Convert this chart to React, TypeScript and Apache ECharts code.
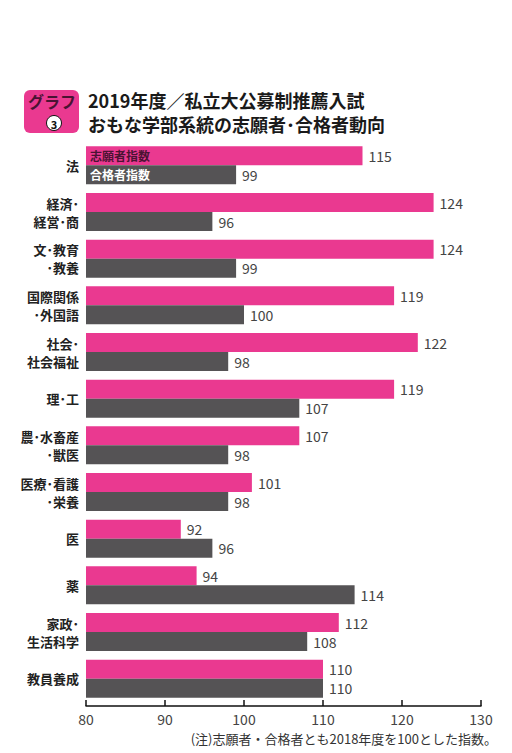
import React, { useEffect, useRef } from "react";
import * as echarts from "echarts";

const categories = [
  "法",
  "経済･\n経営･商",
  "文･教育\n･教養",
  "国際関係\n･外国語",
  "社会･\n社会福祉",
  "理･工",
  "農･水畜産\n･獣医",
  "医療･看護\n･栄養",
  "医",
  "薬",
  "家政･\n生活科学",
  "教員養成",
];
const applicantIndex = [115, 124, 124, 119, 122, 119, 107, 101, 92, 94, 112, 110];
const passerIndex = [99, 96, 99, 100, 98, 107, 98, 98, 96, 114, 108, 110];
const xTicks = { min: 80, max: 130, interval: 10 };

const PINK = "#ea3990";
const GREY = "#555355";
const FONT = "'Noto Sans CJK JP', 'Noto Sans', sans-serif";

export default function App() {
  const ref = useRef<HTMLDivElement>(null);
  useEffect(() => {
    document.body.style.margin = "0";
    const chart = echarts.init(ref.current!, null, { renderer: "svg" });
    chart.setOption({
      animation: false,
      backgroundColor: "#ffffff",
      textStyle: { fontFamily: FONT },
      grid: { left: 86, right: 31, top: 142, height: 560, containLabel: false },
      xAxis: {
        type: "value",
        min: xTicks.min,
        max: xTicks.max,
        interval: xTicks.interval,
        offset: 4,
        axisLine: { show: true, lineStyle: { color: "#111", width: 1.5 } },
        axisTick: { show: true, inside: true, length: 6, lineStyle: { color: "#111", width: 1.5 } },
        splitLine: { show: false },
        axisLabel: { color: "#444", fontSize: 14, margin: 6, fontFamily: FONT },
      },
      yAxis: {
        type: "category",
        data: categories,
        inverse: true,
        axisLine: { show: false },
        axisTick: { show: false },
        axisLabel: {
          color: "#222",
          fontSize: 13,
          fontWeight: "bold",
          lineHeight: 18,
          margin: 7,
          align: "right",
          fontFamily: FONT,
        },
      },
      series: [
        {
          name: "志願者指数",
          type: "bar",
          data: applicantIndex,
          barWidth: 19,
          barGap: "0%",
          itemStyle: { color: PINK },
          label: { show: true, position: "right", distance: 6, color: "#444", fontSize: 14, fontFamily: FONT },
          markPoint: {
            symbol: "rect",
            symbolSize: 0,
            data: [
              {
                coord: [xTicks.min, categories[0]],
                label: {
                  show: true,
                  position: "right",
                  distance: 4,
                  formatter: "志願者指数",
                  color: "#4a1333",
                  fontSize: 12,
                  fontWeight: "bold",
                  fontFamily: FONT,
                },
              },
            ],
          },
        },
        {
          name: "合格者指数",
          type: "bar",
          data: passerIndex,
          barWidth: 19,
          barGap: "0%",
          itemStyle: { color: GREY },
          label: { show: true, position: "right", distance: 6, color: "#444", fontSize: 14, fontFamily: FONT },
          markPoint: {
            symbol: "rect",
            symbolSize: 0,
            data: [
              {
                coord: [xTicks.min, categories[0]],
                label: {
                  show: true,
                  position: "right",
                  distance: 4,
                  formatter: "合格者指数",
                  color: "#ffffff",
                  fontSize: 12,
                  fontWeight: "bold",
                  fontFamily: FONT,
                },
              },
            ],
          },
        },
      ],
      graphic: [
        {
          type: "rect",
          shape: { x: 24, y: 90, width: 55, height: 43, r: 6 },
          style: { fill: PINK },
        },
        {
          type: "text",
          x: 52,
          y: 101,
          style: {
            text: "グラフ",
            fill: "#4a1333",
            font: `bold 16px ${FONT}`,
            align: "center",
            verticalAlign: "middle",
          },
        },
        {
          type: "circle",
          shape: { cx: 54, cy: 123, r: 7.5 },
          style: { fill: "#ffffff", stroke: "#111", lineWidth: 1 },
        },
        {
          type: "text",
          x: 54,
          y: 123.5,
          style: {
            text: "3",
            fill: "#111",
            font: `bold 11px ${FONT}`,
            align: "center",
            verticalAlign: "middle",
          },
        },
        {
          type: "text",
          x: 88,
          y: 100,
          style: {
            text: "2019年度／私立大公募制推薦入試",
            fill: "#1a1a1a",
            font: `bold 18px ${FONT}`,
            verticalAlign: "middle",
          },
        },
        {
          type: "text",
          x: 88,
          y: 124,
          style: {
            text: "おもな学部系統の志願者･合格者動向",
            fill: "#1a1a1a",
            font: `bold 18px ${FONT}`,
            verticalAlign: "middle",
          },
        },
        {
          type: "text",
          x: 497,
          y: 738,
          style: {
            text: "(注)志願者・合格者とも2018年度を100とした指数。",
            fill: "#333",
            font: `13px ${FONT}`,
            align: "right",
            verticalAlign: "middle",
          },
        },
      ],
    });
    return () => chart.dispose();
  }, []);
  return <div ref={ref} style={{ width: 512, height: 753 }} />;
}
